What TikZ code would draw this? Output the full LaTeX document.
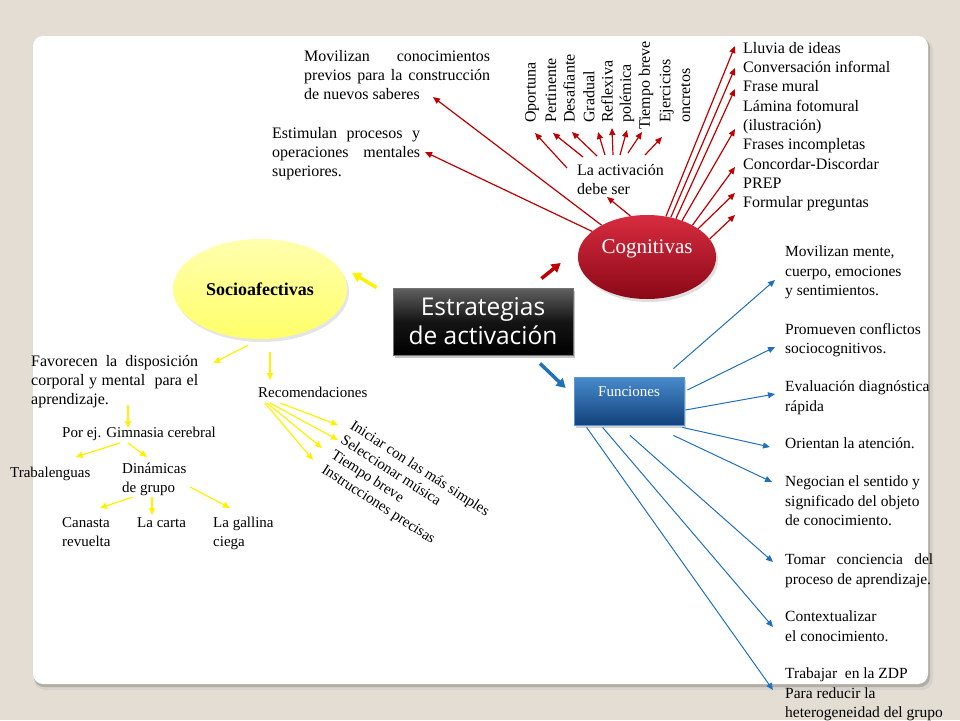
\documentclass[tikz,border=0pt]{standalone}
\usepackage{fontspec}
\setmainfont{Liberation Serif}
\newfontfamily\titlefont{Open Sans}
\usetikzlibrary{arrows.meta,calc,shadows,shapes.geometric,positioning}
\definecolor{paper}{HTML}{E4DDD3}
\definecolor{cardshade}{HTML}{B3AEA5}
\definecolor{cogred}{HTML}{C00000}
\definecolor{funblue}{HTML}{2070BE}
\definecolor{sunny}{HTML}{FFF200}
\hyphenpenalty=10000

\begin{document}
\begin{tikzpicture}[x=1pt,y=-1pt,
  txt/.style={inner sep=0pt,anchor=north west,align=left,
    font=\fontsize{16}{19.3}\selectfont},
  smalltxt/.style={txt,font=\fontsize{15}{19}\selectfont},
  bluetxt/.style={txt,font=\fontsize{15.5}{19.3}\selectfont},
  jtxt/.style={align=justify},
  vword/.style={inner sep=0pt,rotate=90,anchor=west,align=left,
    font=\fontsize{16}{19.8}\selectfont},
  redarr/.style={draw=cogred,line width=1.2pt,-{Triangle[length=7pt,width=6pt]}},
  bluearr/.style={draw=funblue,line width=1pt,-{Triangle[length=7pt,width=6pt]}},
  yelarr/.style={draw=sunny,line width=1.2pt,-{Triangle[length=7pt,width=6pt]}},
  fatarr/.style={line width=3.5pt,-{Triangle[length=9pt,width=10pt]}},
  titlebox/.style={rectangle,minimum width=180pt,minimum height=67pt,
    top color=black!62,bottom color=black,middle color=black!92,
    draw=black!55,line width=1pt,text=white,align=center,
    font=\titlefont\fontsize{24.5}{29}\selectfont,
    drop shadow={opacity=0.45,shadow xshift=2pt,shadow yshift=-3pt}},
  cogell/.style={ellipse,minimum width=128pt,minimum height=84pt,
    top color={rgb,255:red,216;green,44;blue,64},
    middle color={rgb,255:red,192;green,16;blue,40},
    bottom color={rgb,255:red,138;green,8;blue,22},
    text=white,font=\fontsize{21}{24}\selectfont,
    text height=14pt,text depth=22pt,
    drop shadow={opacity=0.25,shadow xshift=2pt,shadow yshift=-3pt}},
  socell/.style={ellipse,minimum width=174pt,minimum height=100pt,
    top color={rgb,255:red,255;green,255;blue,175},
    bottom color={rgb,255:red,255;green,255;blue,105},
    font=\bfseries\fontsize{18}{21}\selectfont,
    drop shadow={opacity=0.2,shadow xshift=2pt,shadow yshift=-3pt}},
  funbox/.style={rectangle,minimum width=110pt,minimum height=48pt,
    top color={rgb,255:red,72;green,138;blue,204},
    bottom color={rgb,255:red,18;green,66;blue,124},
    draw={rgb,255:red,90;green,150;blue,210},line width=0.8pt,
    text=white,font=\fontsize{15}{18}\selectfont,
    text height=10pt,text depth=19pt,
    drop shadow={opacity=0.35,shadow xshift=2pt,shadow yshift=-3pt}},
]
  \useasboundingbox (0,0) rectangle (960,720);
  \fill[paper] (0,0) rectangle (960,720);
  % card
  \fill[cardshade!55,rounded corners=11pt] (34,39) rectangle (933,690);
  \fill[cardshade,rounded corners=10pt] (34,38) rectangle (930,687);
  \fill[white,rounded corners=10pt] (33,36) rectangle (928,684);

  % main nodes
  \node[titlebox] (est) at (483,321.5) {Estrategias\\de activación};
  \node[cogell] (cog) at (647,257) {Cognitivas};
  \node[socell] (soc) at (260,289) {Socioafectivas};
  \node[funbox] (fun) at (629,401) {Funciones};

  \draw[fatarr,cogred] ($(est.north east)+(-32,-9)$) -- ($(cog.west)+(-17,6)$);
  \draw[fatarr,sunny] ($(est.west)+(-16,-34)$) -- ($(soc.east)+(5,-16)$);
  \draw[fatarr,funblue] ($(est.south)+(57,8)$) -- ($(fun.west)+(-8,-13)$);

  % cognitivas
  \node[txt,jtxt,text width=186pt] (mov) at (304,50)
    {Movilizan conocimientos\linebreak previos para la construcción\linebreak de nuevos saberes};
  \node[txt,jtxt,text width=148pt] (stim) at (272,127)
    {Estimulan procesos y\linebreak operaciones mentales\linebreak superiores.};
  \node[txt] (act) at (577,164) {La activación\\debe ser};
  \node[txt] (lst) at (743,42) {Lluvia de ideas\\Conversación informal\\Frase mural\\
    Lámina fotomural\\(ilustración)\\Frases incompletas\\Concordar-Discordar\\PREP\\
    Formular preguntas};

  \foreach \nm/\x/\y/\w in {op/532/123/Oportuna,pert/551/123/Pertinente,
      des/569/123/Desafiante,grad/589/123/Gradual,refl/607/123/Reflexiva,
      pol/627/123/polémica,tb/646/130/Tiempo breve}
    \node[vword] (\nm) at (\x,\y) {\w};
  \node[vword] (ejer) at (675,123) {Ejercicios\\oncretos};

  \draw[redarr] (cog.145) -- ($(mov.north west)+(129,47)$);
  \draw[redarr] (cog.155) -- ($(stim.north west)+(153,25)$);
  \draw[redarr] (cog.112) -- ($(act.north west)+(30,33)$);
  \foreach \nm/\sx/\sy/\ex/\ey in {op/-10/4/3/10,pert/6/-7/2/10,des/20/-8/3/9,
      grad/28/-9/9/9,refl/36/-9/5/5,pol/43/-9/0/7,tb/51/-11/-4/2,ejer/68/-9/-13/14}
    \draw[redarr] ($(act.north west)+(\sx,\sy)$) -- ($(\nm.west)+(\ex,\ey)$);
  \foreach \a/\dy in {65/4,59/26,53/47,46/87,35/125,29/151,16/173}
    \draw[redarr] (cog.\a) -- ($(lst.north west)+(-8,\dy)$);

  % socioafectivas
  \node[txt,jtxt,text width=167pt] (fav) at (31,355)
    {Favorecen la disposición\linebreak corporal y mental \ para el\linebreak aprendizaje.};
  \node[smalltxt] (gim) at (62,427) {Por ej. Gimnasia cerebral};
  \node[smalltxt] (tra) at (10,467) {Trabalenguas};
  \node[smalltxt] (din) at (122,463) {Dinámicas\\de grupo};
  \node[smalltxt] (can) at (62,517) {Canasta\\revuelta};
  \node[smalltxt] (car) at (137,517) {La carta};
  \node[smalltxt] (gal) at (213,517) {La gallina\\ciega};
  \node[smalltxt] (rec) at (258,387) {Recomendaciones};
  \node[inner sep=0pt,rotate=-33,anchor=north west,align=left,
    font=\fontsize{15}{17.5}\selectfont] (recl) at (355,419)
    {Iniciar con las más simples\\Seleccionar música\\Tiempo breve\\Instrucciones precisas};

  \draw[yelarr] ($(soc.south)+(-12,6)$) -- ($(fav.north east)+(15,8)$);
  \draw[yelarr] ($(soc.south)+(10,13)$) -- ($(rec.north west)+(12,-7)$);
  \draw[yelarr] ($(fav.north west)+(97,50)$) -- ($(gim.north west)+(66,1)$);
  \draw[yelarr] ($(gim.north west)+(58,16)$) -- ($(tra.north east)+(-15,-10)$);
  \draw[yelarr] ($(gim.north west)+(66,16)$) -- ($(din.north west)+(25,-6)$);
  \draw[yelarr] ($(din.north west)+(11,34)$) -- ($(can.north west)+(38,-9)$);
  \draw[yelarr] ($(din.north west)+(30,34)$) -- ($(car.north west)+(15,-2)$);
  \draw[yelarr] ($(din.north west)+(68,24)$) -- ($(gal.north west)+(17,-9)$);
  \foreach \sx/\ex/\ey in {22/-17/6,12/-17/21,9/-33/29,7/-42/41}
    \draw[yelarr] ($(rec.north west)+(\sx,16)$) -- ($(recl.north west)+(\ex,\ey)$);

  % funciones
  \node[bluetxt] (mm) at (785,246) {Movilizan mente,\\cuerpo, emociones\\y sentimientos.};
  \node[bluetxt] (pc) at (785,323) {Promueven conflictos\\sociocognitivos.};
  \node[bluetxt] (ed) at (785,381) {Evaluación diagnóstica\\rápida};
  \node[bluetxt] (ol) at (785,438) {Orientan la atención.};
  \node[bluetxt] (ns) at (785,476) {Negocian el sentido y\\significado del objeto\\de conocimiento.};
  \node[bluetxt,jtxt,text width=148pt] (tc) at (785,554)
    {Tomar conciencia del\linebreak proceso de aprendizaje.};
  \node[bluetxt] (cx) at (785,611) {Contextualizar\\el conocimiento.};
  \node[bluetxt] (zdp) at (785,668) {Trabajar \ en la ZDP\\Para reducir la\\heterogeneidad del grupo};

  \draw[bluearr] ($(fun.north east)+(-11,-8)$) -- ($(mm.north west)+(-10,34)$);
  \draw[bluearr] ($(fun.east)+(3,-11)$) -- ($(pc.north west)+(-10,24)$);
  \draw[bluearr] ($(fun.east)+(1,9)$) -- ($(ed.north west)+(-10,13)$);
  \draw[bluearr] ($(fun.south east)+(-2,2)$) -- ($(ol.north west)+(-15,9)$);
  \draw[bluearr] ($(fun.south east)+(-11,10)$) -- ($(ns.north west)+(-13,6)$);
  \draw[bluearr] ($(fun.south)+(1,10)$) -- ($(tc.north west)+(-12,8)$);
  \draw[bluearr] ($(fun.south west)+(29,2)$) -- ($(cx.north west)+(-12,16)$);
  \draw[bluearr] ($(fun.south west)+(13,2)$) -- ($(zdp.north west)+(-12,22)$);
\end{tikzpicture}
\end{document}
